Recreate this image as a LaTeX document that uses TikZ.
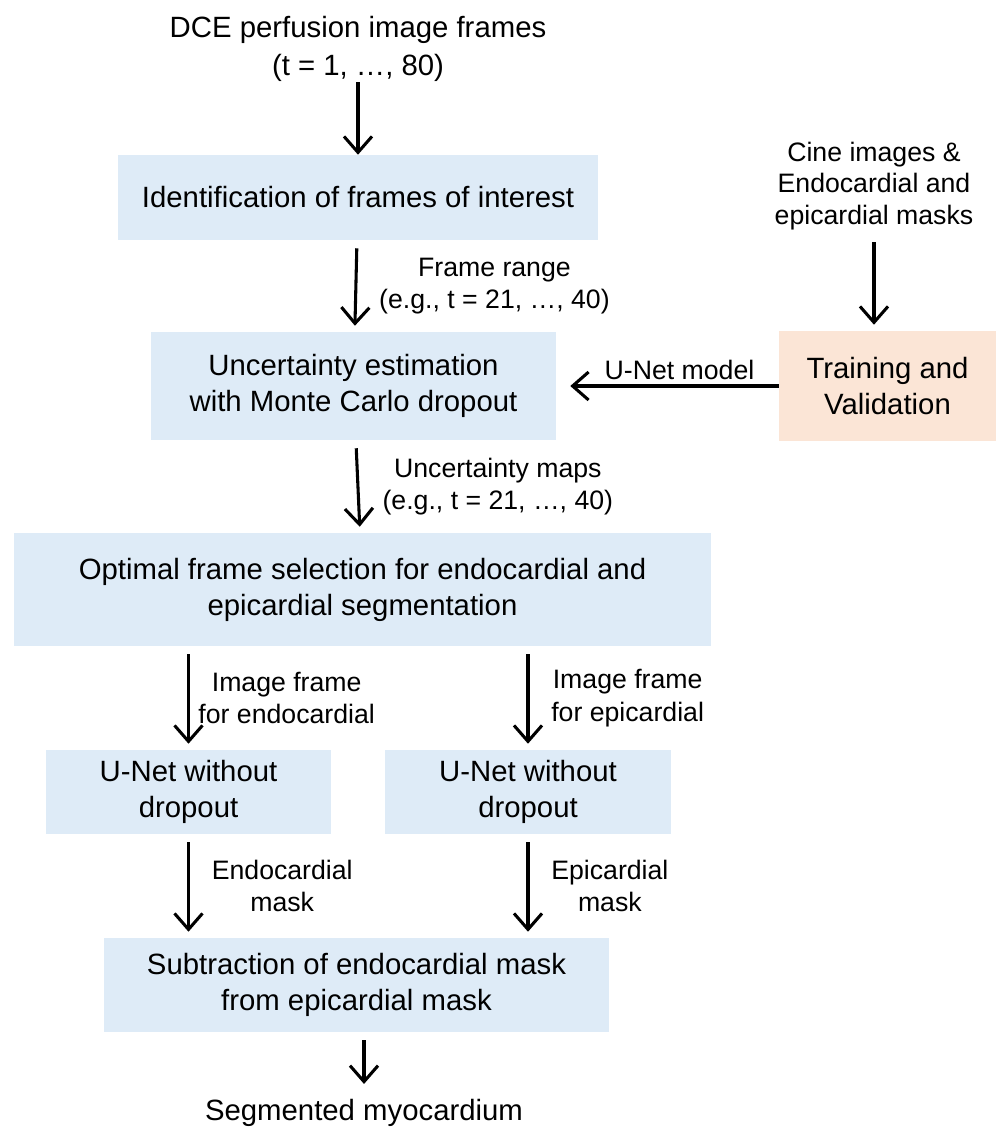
\documentclass[tikz,border=0pt]{standalone}
\usepackage{fontspec}
\setmainfont{Liberation Sans}
\usetikzlibrary{arrows.meta}
\definecolor{boxblue}{HTML}{DEEBF7}
\definecolor{boxorange}{HTML}{FBE5D6}

\begin{document}
\begin{tikzpicture}[x=0.75pt, y=-0.75pt,
 main/.style = {fill=boxblue, align=center, inner sep=0pt, font=\fontsize{22}{27}\selectfont},
 side/.style = {fill=boxorange, align=center, inner sep=0pt, font=\fontsize{22}{27}\selectfont},
 txt/.style = {align=center, font=\fontsize{22}{28}\selectfont},
 lab/.style = {align=center, font=\fontsize{20}{24.5}\selectfont},
 arr/.style = {line width=2.3pt, -{Straight Barb[length=12pt, width=21pt]}, shorten <=6pt, shorten >=4.5pt}]

\useasboundingbox (0,0) rectangle (1004,1129);

\node[txt] (0) at (358,49) {DCE perfusion image frames\\(t = 1, …, 80)};
\node[main, minimum width=360pt, minimum height=63.75pt] (1) at (358,197.5) {Identification of frames of interest};
\node[main, minimum width=303.75pt, minimum height=81pt] (2) at (353.5,386) {Uncertainty estimation\\with Monte Carlo dropout};
\node[side, minimum width=162.75pt, minimum height=82.5pt] (3) at (887.5,386) {Training and\\Validation};
\node[lab, font=\fontsize{20}{23.5}\selectfont] (4) at (874,186) {Cine images \&\\Endocardial and\\epicardial masks};
\node[main, minimum width=522.75pt, minimum height=84.75pt] (5) at (362.5,589.5) {Optimal frame selection for endocardial and\\epicardial segmentation};
\node[main, minimum width=213.75pt, minimum height=63pt] (6) at (188.5,792) {U-Net without\\dropout};
\node[main, minimum width=214.5pt, minimum height=63pt] (7) at (528,792) {U-Net without\\dropout};
\node[main, minimum width=378.75pt, minimum height=70.5pt] (8) at (356.5,985) {Subtraction of endocardial mask\\from epicardial mask};
\node[txt] (9) at (364,1113) {Segmented myocardium};

\draw[arr, shorten <=-3pt, shorten >=0pt] (0) -- (1);
\draw[arr] (1) -- node[midway, right=13pt, lab] {Frame range\\(e.g., t = 21, …, 40)} (2);
\draw[arr] (4) -- (4 |- 3.north);
\draw[arr, shorten <=0pt, shorten >=10.5pt] (3) -- node[midway, above, lab, xshift=9pt] {U-Net model} (2);
\draw[arr] (2) -- node[midway, right=14pt, lab] {Uncertainty maps\\(e.g., t = 21, …, 40)} (5);
\draw[arr] (5.south -| 6.north) -- node[midway, right=3pt, lab] {Image frame\\for endocardial} (6);
\draw[arr] (5.south -| 7.north) -- node[midway, right=13pt, lab] {Image frame\\for epicardial} (7);
\draw[arr] (6) -- node[midway, right=13pt, lab] {Endocardial\\mask} (6 |- 8.north);
\draw[arr] (7) -- node[midway, right=13pt, lab] {Epicardial\\mask} (7 |- 8.north);
\draw[arr, shorten >=8pt] (8.south -| 9.north) -- (9);

\end{tikzpicture}
\end{document}
